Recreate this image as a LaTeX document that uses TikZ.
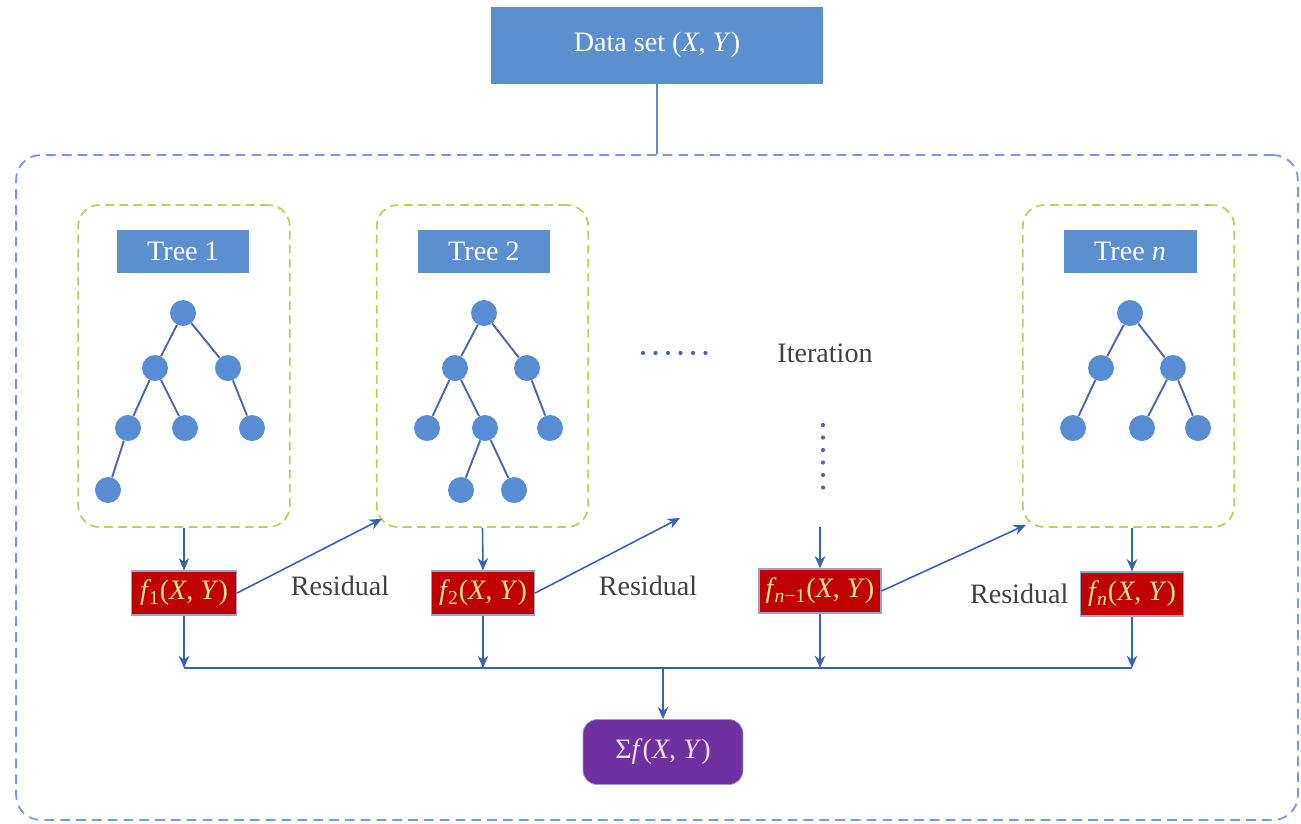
\documentclass[tikz,border=0pt]{standalone}
\usepackage{fontspec}
\setmainfont{Liberation Serif}
\usetikzlibrary{arrows.meta}
\definecolor{boxblue}{RGB}{91,143,206}
\definecolor{leafblue}{RGB}{88,141,212}
\definecolor{edgeblue}{RGB}{78,104,170}
\definecolor{arrblue}{RGB}{58,98,176}
\definecolor{outerblue}{RGB}{120,152,225}
\definecolor{treegreen}{RGB}{186,208,96}
\definecolor{fred}{RGB}{192,0,0}
\definecolor{fborder}{RGB}{150,165,205}
\definecolor{ftext}{RGB}{255,224,150}
\definecolor{sumpurple}{RGB}{112,48,160}
\definecolor{sumtext}{RGB}{232,222,245}
\definecolor{txtgray}{RGB}{65,65,65}
\newcommand{\fxy}[1]{\textit{f}\kern-1.2pt\textsubscript{#1}(\textit{X}, \textit{Y})}

\begin{document}
\begin{tikzpicture}[x=0.02cm, y=-0.02cm, font=\fontsize{16}{19}\selectfont,
    bluebox/.style={fill=boxblue, text=white, inner sep=0pt},
    treebox/.style={draw=treegreen, line width=1pt, dash pattern=on 5pt off 3pt,
        rounded corners=12pt, minimum width=4.23cm, minimum height=6.44cm},
    leaf/.style={circle, fill=leafblue, minimum size=0.52cm, inner sep=0pt},
    edge/.style={draw=edgeblue, line width=1.1pt},
    fbox/.style={fill=fred, draw=fborder, line width=0.7pt, text=ftext,
        minimum height=0.88cm, inner sep=2pt},
    lbl/.style={text=txtgray},
    arr/.style={draw=arrblue, line width=0.9pt, -{Stealth[length=7pt, width=6pt]}},
    line/.style={draw=arrblue, line width=0.9pt}]
\useasboundingbox (0,0) rectangle (1301,823);

% data set and outer frame
\node[bluebox, minimum width=6.66cm, minimum height=1.54cm] (data) at (657,45) {Data set (\textit{X}, \textit{Y})};
\node[draw=outerblue, line width=1pt, dash pattern=on 5.5pt off 3.5pt, rounded corners=14pt,
    minimum width=25.64cm, minimum height=13.3cm] (outer) at (657,487.5) {};
\draw[draw=boxblue!80!gray, line width=1.2pt] (data.south) -- (data.south |- outer.north);

% tree boxes
\node[treebox] (box1) at (184,366) {};
\node[treebox] (box2) at (482.5,366) {};
\node[treebox] (boxn) at (1128.5,366) {};
\node[bluebox, minimum width=2.66cm, minimum height=0.86cm] (lab1) at (183,251) {Tree 1};
\node[bluebox, minimum width=2.66cm, minimum height=0.86cm] (lab2) at (484,251) {Tree 2};
\node[bluebox, minimum width=2.66cm, minimum height=0.86cm] (labn) at (1130,251) {Tree \textit{n}};

% tree 1
\node[leaf] (t1r) at (183,313) {};
\node[leaf] (t1a) at (155,368) {};
\node[leaf] (t1b) at (228,368) {};
\node[leaf] (t1c) at (128,428) {};
\node[leaf] (t1d) at (185,428) {};
\node[leaf] (t1e) at (252,428) {};
\node[leaf] (t1f) at (108,490) {};
\draw[edge] (t1r) -- (t1a) (t1r) -- (t1b) (t1a) -- (t1c) (t1a) -- (t1d)
    (t1b) -- (t1e) (t1c) -- (t1f);

% tree 2
\node[leaf] (t2r) at (484,313) {};
\node[leaf] (t2a) at (455,368) {};
\node[leaf] (t2b) at (527,368) {};
\node[leaf] (t2c) at (427,428) {};
\node[leaf] (t2d) at (485,428) {};
\node[leaf] (t2e) at (550,428) {};
\node[leaf] (t2f) at (461,490) {};
\node[leaf] (t2g) at (514,490) {};
\draw[edge] (t2r) -- (t2a) (t2r) -- (t2b) (t2a) -- (t2c) (t2a) -- (t2d)
    (t2b) -- (t2e) (t2d) -- (t2f) (t2d) -- (t2g);

% tree n
\node[leaf] (tnr) at (1130,313) {};
\node[leaf] (tna) at (1101,368) {};
\node[leaf] (tnb) at (1173,368) {};
\node[leaf] (tnc) at (1073,428) {};
\node[leaf] (tnd) at (1142,428) {};
\node[leaf] (tne) at (1198,428) {};
\draw[edge] (tnr) -- (tna) (tnr) -- (tnb) (tna) -- (tnc) (tnb) -- (tnd) (tnb) -- (tne);

% iteration
\node[lbl] (iter) at (825,353) {Iteration};
\foreach \i in {0,...,5} {
    \fill[edgeblue] (643+\i*12.5,353) circle (1.2pt);
    \fill[edgeblue] (823,425+\i*12.5) circle (1.2pt);
}

% models
\node[fbox, minimum width=2.1cm] (f1) at (184,593) {\fxy{1}};
\node[fbox, minimum width=2.06cm] (f2) at (483,593) {\fxy{2}};
\node[fbox, minimum width=2.44cm] (fm) at (820,591) {\fxy{\textit{n}−1}};
\node[fbox, minimum width=2.06cm] (fn) at (1132,594) {\fxy{\textit{n}}};
\coordinate (iterin) at (826,527);
\coordinate (gapin) at (680,518);
\draw[arr] (box1.south) -- (f1.north);
\draw[arr] (box2.south) -- (f2.north);
\draw[arr] (fm |- iterin) -- (fm.north);
\draw[arr] (fn |- boxn.south) -- (fn.north);

% residuals
\draw[arr] (f1.east) -- ([shift={(6,-9)}]box2.south west);
\draw[arr] (f2.east) -- (gapin);
\draw[arr] (fm.east) -- ([shift={(4,-3)}]boxn.south west);
\node[lbl] (res1) at (340,586) {Residual};
\node[lbl] (res2) at (648,586) {Residual};
\node[lbl, anchor=east] (res3) at ([xshift=-3pt]fn.west) {Residual};

% sum
\coordinate (bus) at (184,668);
\node[fill=sumpurple, draw=arrblue!60, rounded corners=8pt, text=sumtext,
    minimum width=3.2cm, minimum height=1.3cm] (sum) at (663,752) {Σ\textit{f}(\textit{X}, \textit{Y})};
\draw[arr] (f1.south) -- (f1 |- bus);
\draw[arr] (f2.south) -- (f2 |- bus);
\draw[arr] (fm.south) -- (fm |- bus);
\draw[arr] (fn.south) -- (fn |- bus);
\draw[line] (f1 |- bus) -- (fn |- bus);
\draw[arr] (sum |- bus) -- (sum.north);
\end{tikzpicture}
\end{document}
